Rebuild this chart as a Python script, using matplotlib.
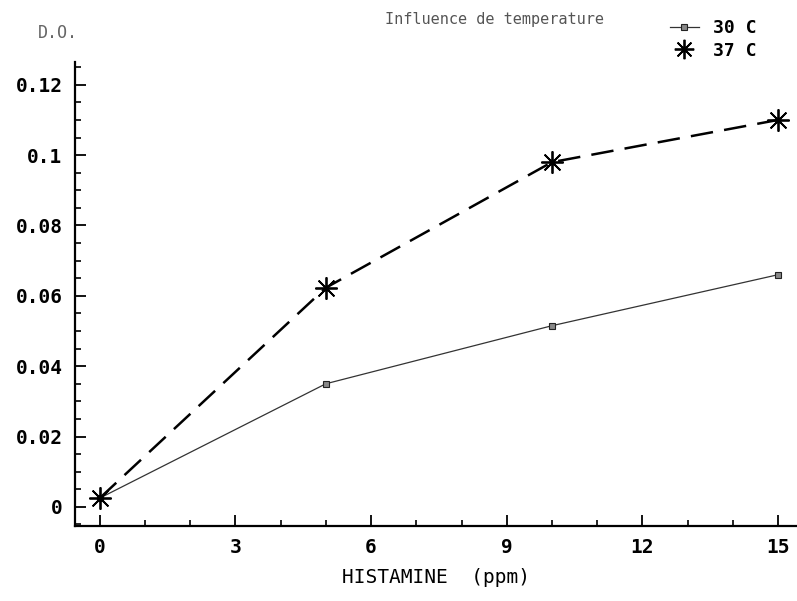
import numpy as np
import matplotlib.pyplot as plt
from matplotlib.ticker import MultipleLocator, FixedLocator, FixedFormatter

# data
histamine = [0, 5, 10, 15]
do_30c = [0.0025, 0.035, 0.0515, 0.066]
do_37c = [0.0025, 0.0623, 0.098, 0.110]

x_ticks = [0, 3, 6, 9, 12, 15]
y_ticks = [0, 0.02, 0.04, 0.06, 0.08, 0.1, 0.12]
y_tick_labels = ["0", "0.02", "0.04", "0.06", "0.08", "0.1", "0.12"]

mono = "DejaVu Sans Mono"

fig = plt.figure(figsize=(7.97, 6.01), dpi=100)
fig.patch.set_facecolor("white")
ax = fig.add_axes([0.094, 0.125, 0.906, 0.772])

l30, = ax.plot(histamine, do_30c, color="#333333", lw=0.9,
               marker="s", ms=5, mfc="#888888", mec="#222222", mew=0.8,
               label="30 C")
l37, = ax.plot(histamine, do_37c, color="black", lw=1.8, dashes=(9, 4.5),
               marker=(8, 2, 0), ms=16, mec="black", mew=1.3,
               label="37 C")

ax.set_xlim(-0.55, 15.42)
ax.set_ylim(-0.0054, 0.1265)

for s in ["top", "right"]:
    ax.spines[s].set_visible(False)
for s in ["left", "bottom"]:
    ax.spines[s].set_linewidth(1.6)

ax.xaxis.set_major_locator(FixedLocator(x_ticks))
ax.xaxis.set_minor_locator(MultipleLocator(1))
ax.yaxis.set_major_locator(FixedLocator(y_ticks))
ax.yaxis.set_major_formatter(FixedFormatter(y_tick_labels))
ax.yaxis.set_minor_locator(MultipleLocator(0.005))

ax.tick_params(which="major", direction="in", length=8, width=1.3,
               labelsize=14, pad=9)
ax.tick_params(which="minor", direction="in", length=4, width=1.2)
for lab in ax.get_xticklabels() + ax.get_yticklabels():
    lab.set_fontfamily(mono)
    lab.set_fontweight("bold")

ax.set_xlabel("HISTAMINE  (ppm)", fontfamily=mono, fontsize=14, labelpad=8)

fig.text(0.073, 0.945, "D.O.", fontfamily=mono, fontsize=12,
         color="#666666", ha="center", va="center")
fig.text(0.62, 0.968, "Influence de temperature", fontfamily=mono,
         fontsize=11, color="#555555", ha="center", va="center")

leg = fig.legend(handles=[l30, l37], loc="upper left",
                 bbox_to_anchor=(0.82, 0.995), frameon=False,
                 handlelength=1.6, handletextpad=0.8, labelspacing=0.25,
                 prop={"family": mono, "size": 13, "weight": "bold"})
leg.legend_handles[0].set_markersize(5)
leg.legend_handles[1].set_markersize(14)
leg.legend_handles[1].set_linestyle("none")

fig.savefig("out.png", dpi=100)
